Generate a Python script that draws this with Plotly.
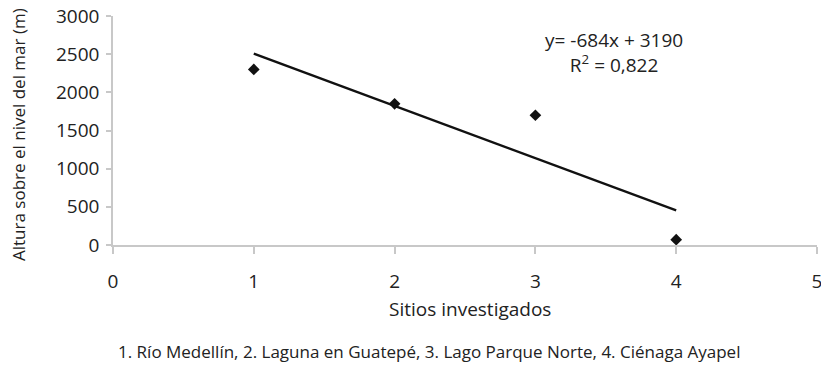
import numpy as np
import plotly.graph_objects as go

sitios = [1, 2, 3, 4]
altura = [2300, 1850, 1700, 70]
x_ticks = [0, 1, 2, 3, 4, 5]
y_ticks = [0, 500, 1000, 1500, 2000, 2500, 3000]

slope, intercept = np.polyfit(sitios, altura, 1)
trend_x = [min(sitios), max(sitios)]
trend_y = [slope * v + intercept for v in trend_x]

FONT = "Open Sans"
AXC = "#c8c8c8"

fig = go.Figure()
fig.add_trace(go.Scatter(x=trend_x, y=trend_y, mode="lines",
                         line=dict(color="#111111", width=2.4), showlegend=False))
fig.add_trace(go.Scatter(x=sitios, y=altura, mode="markers",
                         marker=dict(symbol="diamond", size=9, color="#111111"),
                         showlegend=False))

fig.update_layout(
    width=821, height=368,
    margin=dict(l=113, r=4, t=16, b=123, autoexpand=False),
    paper_bgcolor="white", plot_bgcolor="white",
    font=dict(family=FONT, size=18, color="#222222"),
    xaxis=dict(range=[0, 5], tickvals=x_ticks, showgrid=False, zeroline=False,
               showline=True, linecolor=AXC, linewidth=1.5,
               ticks="outside", ticklen=7, tickcolor=AXC, tickwidth=1.5,
               tickfont=dict(size=19), ticklabelstandoff=11,
               ticklabeloverflow="allow", automargin=False),
    yaxis=dict(range=[0, 3000], tickvals=y_ticks, showgrid=False, zeroline=False,
               showline=True, linecolor=AXC, linewidth=1.5,
               ticks="outside", ticklen=5, tickcolor=AXC, tickwidth=1.5,
               tickfont=dict(size=19), ticklabelstandoff=3,
               ticklabeloverflow="allow", automargin=False),
    annotations=[
        dict(text="y= -684x + 3190<br>R<sup>2</sup> = 0,822", font=dict(size=19),
             align="center", showarrow=False),
        dict(text="Sitios investigados", font=dict(size=19), showarrow=False),
        dict(text="1. Río Medellín, 2. Laguna en Guatepé, 3. Lago Parque Norte, 4. Ciénaga Ayapel",
             font=dict(size=17), showarrow=False),
        dict(text="Altura sobre el nivel del mar (m)", font=dict(size=17),
             textangle=-90, showarrow=False),
    ],
)

# position annotations in pixel terms converted to paper coords
L, R, T, B = 113, 817, 16, 245
def px(xp):
    return (xp - L) / (R - L)
def py(yp):
    return (B - yp) / (B - T)

pos = [(614, 52), (470, 309), (429, 351), (18, 135)]
anns = list(fig.layout.annotations)
for a, (xp, yp) in zip(anns, pos):
    a.update(xref="paper", yref="paper", x=px(xp), y=py(yp), xanchor="center", yanchor="middle")
fig.layout.annotations = anns

fig.write_html("out.html")
